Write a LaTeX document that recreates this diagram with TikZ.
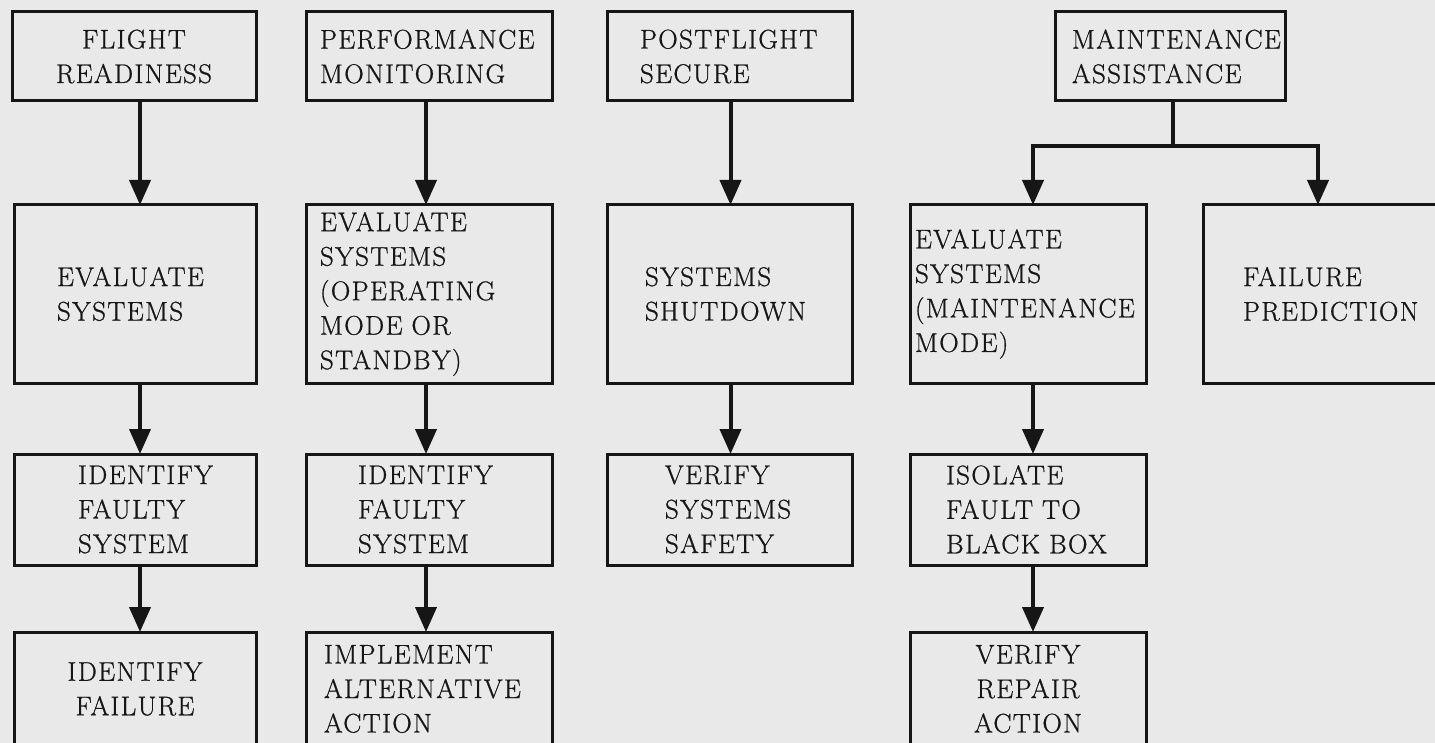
\documentclass[tikz,border=0pt]{standalone}
\usepackage{fontspec}
\setmainfont{Latin Modern Roman}[LetterSpace=5,FakeBold=0.8,WordSpace=1.3]
\usetikzlibrary{arrows.meta}
\definecolor{paper}{RGB}{233,233,233}
\definecolor{ink}{RGB}{22,22,22}
\tikzset{
  box/.style={draw=ink, line width=3pt, rectangle, inner sep=0pt, outer sep=0pt,
    anchor=north west, text=ink, font=\fontsize{27}{34.5}\selectfont},
  flow/.style={draw=ink, line width=4pt, -{Triangle[width=21pt,length=25pt]}},
  stem/.style={draw=ink, line width=4pt},
}
\begin{document}
\begin{tikzpicture}[x=1pt,y=-1pt]
\useasboundingbox (0,0) rectangle (1435,743);
\fill[paper] (0,0) rectangle (1435,743);

% top row: the four mission phases
\node[box, minimum width=244, minimum height=89, align=center] (a1) at (12,12)
  {FLIGHT\\READINESS};
\node[box, minimum width=246, minimum height=89, align=left, text width=218] (b1) at (306,12)
  {PERFORMANCE\\MONITORING};
\node[box, minimum width=245, minimum height=89, align=left, text width=179] (c1) at (607,12)
  {POSTFLIGHT\\SECURE};
\node[box, minimum width=230, minimum height=89, align=left, text width=196] (d1) at (1055,12)
  {MAINTENANCE\\ASSISTANCE};

% second row: evaluation
\node[box, minimum width=242, minimum height=178, align=left, text width=156] (a2) at (14,205)
  {EVALUATE\\SYSTEMS};
\node[box, minimum width=246, minimum height=178, align=left, text width=218] (b2) at (306,205)
  {EVALUATE\\SYSTEMS\\(OPERATING\\MODE OR\\STANDBY)};
\node[box, minimum width=245, minimum height=178, align=left, text width=169] (c2) at (607,205)
  {SYSTEMS\\SHUTDOWN};
\node[box, minimum width=236, minimum height=178, align=left, text width=226] (d2) at (910,205)
  {EVALUATE\\SYSTEMS\\(MAINTENANCE\\MODE)};
\node[box, minimum width=242, minimum height=178, align=left, text width=162] (e2) at (1203,205)
  {FAILURE\\PREDICTION};

% third row
\node[box, minimum width=242, minimum height=111, align=left, text width=114] (a3) at (14,454)
  {IDENTIFY\\FAULTY\\SYSTEM};
\node[box, minimum width=246, minimum height=111, align=left, text width=142] (b3) at (306,454)
  {IDENTIFY\\FAULTY\\SYSTEM};
\node[box, minimum width=245, minimum height=111, align=left, text width=129] (c3) at (607,454)
  {VERIFY\\SYSTEMS\\SAFETY};
\node[box, minimum width=236, minimum height=111, align=left, text width=164] (d3) at (910,454)
  {ISOLATE\\FAULT TO\\BLACK BOX};

% bottom row
\node[box, minimum width=242, minimum height=114, align=center] (a4) at (14,632)
  {IDENTIFY\\FAILURE};
\node[box, minimum width=246, minimum height=114, align=left, text width=210] (b4) at (306,632)
  {IMPLEMENT\\ALTERNATIVE\\ACTION};
\node[box, minimum width=236, minimum height=114, align=center] (d4) at (910,632)
  {VERIFY\\REPAIR\\ACTION};

% column connectors
\draw[flow] ([xshift=6pt]a1.south) -- ([xshift=5pt]a2.north);
\draw[flow] ([xshift=5pt]a2.south) -- ([xshift=5pt]a3.north);
\draw[flow] ([xshift=5pt]a3.south) -- ([xshift=5pt]a4.north);

\draw[flow] ([xshift=-3pt]b1.south) -- ([xshift=-3pt]b2.north);
\draw[flow] ([xshift=-3pt]b2.south) -- ([xshift=-3pt]b3.north);
\draw[flow] ([xshift=-3pt]b3.south) -- ([xshift=-3pt]b4.north);

\draw[flow] ([xshift=1pt]c1.south) -- ([xshift=1pt]c2.north);
\draw[flow] ([xshift=1pt]c2.south) -- ([xshift=1pt]c3.north);

% maintenance branch
\coordinate (split) at (1173,146);
\draw[stem] (d1.south -| split) -- (split);
\draw[flow] (split) -| ([xshift=5pt]d2.north);
\draw[flow] (split) -| ([xshift=-6pt]e2.north);
\draw[flow] ([xshift=5pt]d2.south) -- ([xshift=5pt]d3.north);
\draw[flow] ([xshift=5pt]d3.south) -- ([xshift=5pt]d4.north);
\end{tikzpicture}
\end{document}
